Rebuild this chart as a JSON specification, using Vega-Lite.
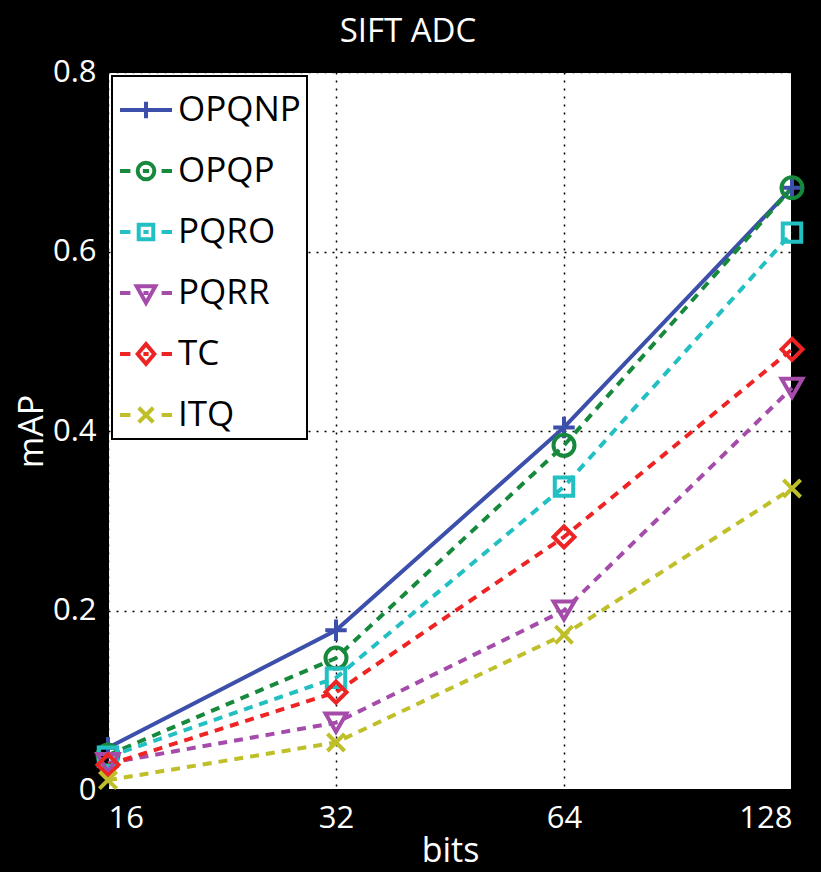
{
  "$schema": "https://vega.github.io/schema/vega-lite/v6.json",
  "background": "#000000",
  "autosize": {"type": "none"},
  "padding": {"left": 108, "top": 72, "right": 29, "bottom": 82},
  "width": 684,
  "height": 718,
  "title": {
    "text": "SIFT ADC",
    "color": "#ffffff",
    "font": "Open Sans",
    "fontSize": 33,
    "fontWeight": "normal",
    "offset": 7,
    "dx": -42
  },
  "config": {
    "view": {"stroke": "#000000", "strokeWidth": 2, "fill": "#ffffff"},
    "axis": {
      "domain": false,
      "labelColor": "#ffffff",
      "labelFont": "Open Sans",
      "labelFontSize": 31,
      "titleColor": "#ffffff",
      "titleFont": "Open Sans",
      "titleFontSize": 34,
      "titleFontWeight": "normal",
      "grid": true,
      "gridColor": "#000000",
      "gridDash": [2, 6],
      "gridWidth": 1.5,
      "gridOpacity": 1,
      "ticks": false
    }
  },
  "data": {
    "values": [
      {"series": "OPQNP", "bits": 16, "mAP": 0.047},
      {"series": "OPQNP", "bits": 32, "mAP": 0.178},
      {"series": "OPQNP", "bits": 64, "mAP": 0.404},
      {"series": "OPQNP", "bits": 128, "mAP": 0.671},
      {"series": "OPQP", "bits": 16, "mAP": 0.039},
      {"series": "OPQP", "bits": 32, "mAP": 0.147},
      {"series": "OPQP", "bits": 64, "mAP": 0.384},
      {"series": "OPQP", "bits": 128, "mAP": 0.671},
      {"series": "PQRO", "bits": 16, "mAP": 0.037},
      {"series": "PQRO", "bits": 32, "mAP": 0.125},
      {"series": "PQRO", "bits": 64, "mAP": 0.338},
      {"series": "PQRO", "bits": 128, "mAP": 0.621},
      {"series": "PQRR", "bits": 16, "mAP": 0.030},
      {"series": "PQRR", "bits": 32, "mAP": 0.075},
      {"series": "PQRR", "bits": 64, "mAP": 0.200},
      {"series": "PQRR", "bits": 128, "mAP": 0.448},
      {"series": "TC", "bits": 16, "mAP": 0.028},
      {"series": "TC", "bits": 32, "mAP": 0.109},
      {"series": "TC", "bits": 64, "mAP": 0.282},
      {"series": "TC", "bits": 128, "mAP": 0.491},
      {"series": "ITQ", "bits": 16, "mAP": 0.011},
      {"series": "ITQ", "bits": 32, "mAP": 0.053},
      {"series": "ITQ", "bits": 64, "mAP": 0.173},
      {"series": "ITQ", "bits": 128, "mAP": 0.336}
    ]
  },
  "encoding": {
    "x": {
      "field": "bits",
      "type": "quantitative",
      "title": "bits",
      "scale": {"type": "log", "base": 2, "domain": [16, 128], "nice": false},
      "axis": {"values": [16, 32, 64, 128], "format": "d", "labelPadding": 13, "titlePadding": 1}
    },
    "y": {
      "field": "mAP",
      "type": "quantitative",
      "title": "mAP",
      "scale": {"domain": [0, 0.8], "nice": false},
      "axis": {
        "values": [0, 0.2, 0.4, 0.6, 0.8],
        "labelExpr": "datum.value === 0 ? '0' : format(datum.value, '.1f')",
        "labelPadding": 12,
        "titlePadding": 3
      }
    },
    "color": {
      "field": "series",
      "type": "nominal",
      "sort": ["OPQNP", "OPQP", "PQRO", "PQRR", "TC", "ITQ"],
      "scale": {
        "domain": ["OPQNP", "OPQP", "PQRO", "PQRR", "TC", "ITQ"],
        "range": ["#3b4fab", "#17893c", "#22c0c3", "#a54cab", "#ee2424", "#bfbf2a"]
      },
      "legend": {
        "title": null,
        "orient": "top-left",
        "offset": 4,
        "padding": 6,
        "fillColor": "#ffffff",
        "strokeColor": "#000000",
        "labelFont": "Open Sans",
        "labelFontSize": 35,
        "labelColor": "#000000",
        "labelLimit": 300,
        "labelOffset": 4,
        "symbolSize": 2704,
        "symbolStrokeWidth": 4,
        "rowPadding": 15,
        "encode": {
          "legend": {"update": {"strokeWidth": {"value": 2}}},
          "symbols": {
            "update": {
              "fill": {"value": "transparent"},
              "shape": {
                "signal": "datum.value === 'OPQNP' ? 'M-1,0L1,0M0,-0.32L0,0.32' : datum.value === 'OPQP' ? 'M-1,0L-0.6,0M0.6,0L1,0M-0.12,0L0.12,0M0.32,0A0.32,0.32 0 1,1 -0.32,0A0.32,0.32 0 1,1 0.32,0' : datum.value === 'PQRO' ? 'M-1,0L-0.6,0M0.6,0L1,0M-0.1,0L0.1,0M-0.28,-0.28L0.28,-0.28L0.28,0.28L-0.28,0.28Z' : datum.value === 'PQRR' ? 'M-1,0L-0.6,0M0.6,0L1,0M-0.1,0L0.1,0M-0.36,-0.26L0.36,-0.26L0,0.38Z' : datum.value === 'TC' ? 'M-1,0L-0.6,0M0.6,0L1,0M-0.1,0L0.1,0M0,-0.38L0.32,0L0,0.38L-0.32,0Z' : 'M-1,0L-0.6,0M0.6,0L1,0M-0.28,-0.28L0.28,0.28M-0.28,0.28L0.28,-0.28'"
              }
            }
          }
        }
      }
    }
  },
  "layer": [
    {
      "transform": [{"filter": "datum.series === 'OPQNP'"}],
      "mark": {"type": "line", "strokeWidth": 4, "clip": false},
      "encoding": {}
    },
    {
      "transform": [{"filter": "datum.series !== 'OPQNP'"}],
      "mark": {"type": "line", "strokeWidth": 4, "strokeDash": [9, 7], "clip": false},
      "encoding": {}
    },
    {
      "transform": [{"filter": "datum.series === 'OPQNP'"}],
      "mark": {"type": "point", "shape": "M-1,0L1,0M0,-1L0,1", "filled": false, "strokeWidth": 4, "size": 460, "opacity": 1, "clip": false},
      "encoding": {}
    },
    {
      "transform": [{"filter": "datum.series === 'OPQP'"}],
      "mark": {"type": "point", "shape": "circle", "filled": false, "strokeWidth": 4, "size": 440, "opacity": 1, "clip": false},
      "encoding": {}
    },
    {
      "transform": [{"filter": "datum.series === 'PQRO'"}],
      "mark": {"type": "point", "shape": "square", "filled": false, "strokeWidth": 4, "size": 340, "opacity": 1, "clip": false},
      "encoding": {}
    },
    {
      "transform": [{"filter": "datum.series === 'PQRR'"}],
      "mark": {"type": "point", "shape": "triangle-down", "filled": false, "strokeWidth": 4, "size": 440, "opacity": 1, "clip": false},
      "encoding": {}
    },
    {
      "transform": [{"filter": "datum.series === 'TC'"}],
      "mark": {"type": "point", "shape": "diamond", "filled": false, "strokeWidth": 4, "size": 440, "opacity": 1, "clip": false},
      "encoding": {}
    },
    {
      "transform": [{"filter": "datum.series === 'ITQ'"}],
      "mark": {"type": "point", "shape": "M-0.8,-0.8L0.8,0.8M-0.8,0.8L0.8,-0.8", "filled": false, "strokeWidth": 4, "size": 460, "opacity": 1, "clip": false},
      "encoding": {}
    }
  ]
}
